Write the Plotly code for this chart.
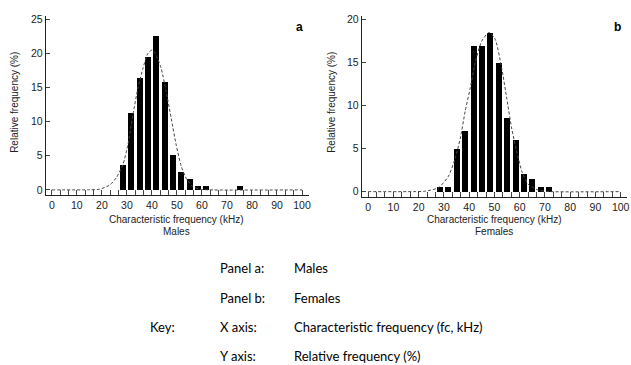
import plotly.graph_objects as go

# ---------------- data ----------------
bin_centers_a = [28.33, 31.67, 35.0, 38.33, 41.67, 45.0, 48.33, 51.67, 55.0, 58.33, 61.67, 75.0]
freq_a = [3.6, 11.3, 16.4, 19.5, 22.5, 15.9, 5.1, 2.6, 1.55, 0.55, 0.55, 0.55]

bin_centers_b = [28.33, 31.67, 35.0, 38.33, 41.67, 45.0, 48.33, 51.67, 55.0, 58.33, 61.67, 65.0, 68.33, 71.67]
freq_b = [0.57, 0.57, 5.05, 7.05, 17.0, 17.0, 18.5, 15.0, 8.6, 6.05, 2.07, 1.54, 0.55, 0.55]

# fitted curves
curve_x_a = [0, 15, 19.1, 23.1, 25.8, 28.4, 30.4, 32.4, 34.4, 36.4, 38.4, 40.1, 41.7, 43.7, 45.7, 47.7, 49.7, 51.7, 53.9, 56.3, 59, 63, 100]
curve_y_a = [0, 0.02, 0.1, 0.7, 1.8, 3.7, 6.6, 11.0, 14.9, 17.8, 20.0, 20.5, 19.7, 17.8, 14.4, 10.5, 6.6, 3.5, 1.55, 0.5, 0.1, 0.0, 0]

curve_x_b = [0, 18, 22.6, 27.9, 31.8, 34.5, 36.5, 38.4, 40.4, 42.4, 45.0, 47.9, 50.3, 52.9, 54.9, 56.8, 58.8, 60.8, 63.4, 67.4, 72, 100]
curve_y_b = [0, 0.0, 0.05, 0.46, 1.8, 3.9, 6.2, 9.3, 12.0, 15.0, 17.5, 18.5, 17.7, 14.3, 10.8, 7.4, 4.7, 2.4, 0.85, 0.16, 0.0, 0]

x_tick_vals = [0, 10, 20, 30, 40, 50, 60, 70, 80, 90, 100]
x_tick_text = ["0", "10", "20", "30", "40", "50", "60", "70", "80", "90", "100"]
y_tick_vals_a = [0, 5, 10, 15, 20, 25]
y_tick_vals_b = [0, 5, 10, 15, 20]

x_title = "Characteristic frequency (kHz)"
y_title = "Relative frequency (%)"
panel_names = ["Males", "Females"]
panel_letters = ["a", "b"]

key_rows = [
    ("", "Panel a:", "Males"),
    ("", "Panel b:", "Females"),
    ("Key:", "X axis:", "Characteristic frequency (fc, kHz)"),
    ("", "Y axis:", "Relative frequency (%)"),
]

# ---------------- figure ----------------
W, H = 631, 365
fig = go.Figure()

fig.add_trace(go.Bar(x=bin_centers_a, y=freq_a, width=2.4, marker=dict(color="black", line=dict(width=0)),
                     xaxis="x", yaxis="y", showlegend=False))
fig.add_trace(go.Scatter(x=curve_x_a, y=curve_y_a, mode="lines", line=dict(color="#444", width=1, dash="3px,2px", shape="spline", smoothing=0.6),
                         xaxis="x", yaxis="y", showlegend=False))
fig.add_trace(go.Bar(x=bin_centers_b, y=freq_b, width=2.4, marker=dict(color="black", line=dict(width=0)),
                     xaxis="x2", yaxis="y2", showlegend=False))
fig.add_trace(go.Scatter(x=curve_x_b, y=curve_y_b, mode="lines", line=dict(color="#444", width=1, dash="3px,2px", shape="spline", smoothing=0.6),
                         xaxis="x2", yaxis="y2", showlegend=False))

tickfont = dict(family="Liberation Sans, Arial", size=10.5, color="#222")

def xaxis(domain, rng, anchor):
    return dict(domain=domain, range=rng, anchor=anchor, showgrid=False, zeroline=False,
                showline=True, linecolor="#222", linewidth=1.3,
                ticks="inside", ticklen=5, tickcolor="#444", tickwidth=1,
                tickvals=x_tick_vals, ticktext=x_tick_text, tickfont=tickfont,
                minor=dict(tickvals=[i * 10 / 3 for i in range(31)], ticks="inside", ticklen=5, tickcolor="#444", tickwidth=1),
                fixedrange=True)

def yaxis(domain, rng, anchor, vals):
    return dict(domain=domain, range=rng, anchor=anchor, showgrid=False, zeroline=False,
                showline=True, linecolor="#222", linewidth=1.3,
                ticks="inside", ticklen=4, tickcolor="#444", tickwidth=1,
                tickvals=vals, tickfont=tickfont, fixedrange=True)

fig.update_layout(
    width=W, height=H, margin=dict(l=0, r=0, t=0, b=0),
    paper_bgcolor="white", plot_bgcolor="white", bargap=0,
    xaxis=xaxis([46 / W, 310 / W], [-2.4, 102.8], "y"),
    yaxis=yaxis([1 - 194 / H, 1 - 13 / H], [-0.73, 25.5], "x", y_tick_vals_a),
    xaxis2=xaxis([363 / W, 629 / W], [-2.5, 102.5], "y2"),
    yaxis2=yaxis([1 - 196 / H, 1 - 12.7 / H], [-0.61, 20.45], "x2", y_tick_vals_b),
)

lab = dict(family="Liberation Sans, Arial", size=10, color="#222")
ann = []
for cx, name, ytx in [(177, panel_names[0], 15), (496, panel_names[1], 333)]:
    ann.append(dict(x=cx / W, y=1 - 218.5 / H, xref="paper", yref="paper", text=x_title, showarrow=False,
                    font=lab, xanchor="center", yanchor="middle"))
    ann.append(dict(x=cx / W, y=1 - 231 / H, xref="paper", yref="paper", text=name, showarrow=False,
                    font=lab, xanchor="center", yanchor="middle"))
    ann.append(dict(x=ytx / W, y=1 - 100 / H, xref="paper", yref="paper", text=y_title, showarrow=False,
                    font=lab, textangle=-90, xanchor="center", yanchor="middle"))
for lx, letter in [(300, panel_letters[0]), (619, panel_letters[1])]:
    ann.append(dict(x=lx / W, y=1 - 24 / H, xref="paper", yref="paper", text="<b>%s</b>" % letter, showarrow=False,
                    font=dict(family="Liberation Sans, Arial", size=12, color="black"), xanchor="center", yanchor="middle"))

keyfont = dict(family="Lato, Carlito, Calibri", size=13, color="black")
row_y = [268, 298, 328, 357]
for (c0, c1, c2), yy in zip(key_rows, row_y):
    for xx, t in [(148, c0), (219, c1), (293, c2)]:
        if t:
            ann.append(dict(x=xx / W, y=1 - yy / H, xref="paper", yref="paper", text=t, showarrow=False,
                            font=keyfont, xanchor="left", yanchor="middle"))

fig.update_layout(annotations=ann)
fig.write_html("out.html")
